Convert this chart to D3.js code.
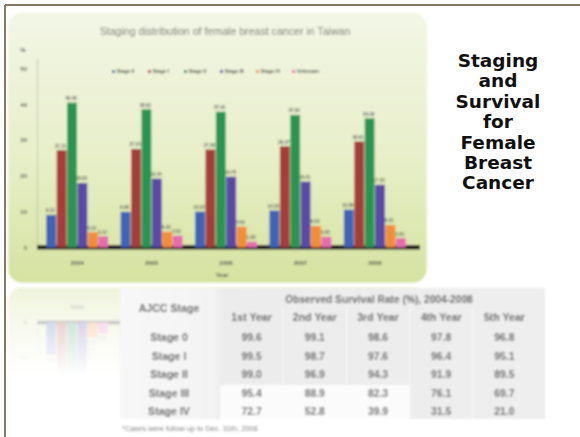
<!DOCTYPE html>
<html><head><meta charset="utf-8">
<script src="https://cdn.jsdelivr.net/npm/d3@7"></script>
<style>
html,body{margin:0;padding:0;background:#fff;}
svg{display:block;}
</style></head>
<body>
<svg id="slide" width="580" height="437"></svg>
<script>
// Staging distribution (%) by year of diagnosis
const years = ["2004", "2005", "2006", "2007", "2008"];
const stages = ["Stage 0", "Stage I", "Stage II", "Stage III", "Stage IV", "Unknown"];
const stage0Pct   = [9.12, 9.96, 10.02, 10.33, 10.58];
const stage1Pct   = [27.21, 27.53, 27.38, 28.27, 29.61];
const stage2Pct   = [40.46, 38.62, 37.91, 37.02, 36.09];
const stage3Pct   = [18.03, 19.24, 19.78, 18.41, 17.52];
const stage4Pct   = [4.31, 4.42, 5.81, 6.02, 6.31];
const unknownPct  = [3.12, 3.31, 1.62, 3.03, 2.61];
const yTicks = [0, 10, 20, 30, 40, 50];

// Observed survival rate (%), 2004-2008
const survivalCols = ["1st Year", "2nd Year", "3rd Year", "4th Year", "5th Year"];
const survivalRows = ["Stage 0", "Stage I", "Stage II", "Stage III", "Stage IV"];
const survStage0 = [99.6, 99.1, 98.6, 97.8, 96.8];
const survStage1 = [99.5, 98.7, 97.6, 96.4, 95.1];
const survStage2 = [99.0, 96.9, 94.3, 91.9, 89.5];
const survStage3 = [95.4, 88.9, 82.3, 76.1, 69.7];
const survStage4 = [72.7, 52.8, 39.9, 31.5, 21.0];

const titleLines = ["Staging", "and", "Survival", "for", "Female", "Breast", "Cancer"];

const seriesValues = [stage0Pct, stage1Pct, stage2Pct, stage3Pct, stage4Pct, unknownPct];
const survValues = [survStage0, survStage1, survStage2, survStage3, survStage4];
const colors = ["#3f64b6", "#a53c3b", "#2a9553", "#5a48a5", "#f28d38", "#e66cb0"];

const svg = d3.select("#slide");
const defs = svg.append("defs");

const pg = defs.append("linearGradient").attr("id", "panelFill")
  .attr("x1", 0).attr("y1", 0).attr("x2", 0).attr("y2", 1);
pg.append("stop").attr("offset", "0%").attr("stop-color", "#f3f6e6");
pg.append("stop").attr("offset", "55%").attr("stop-color", "#e7efc8");
pg.append("stop").attr("offset", "100%").attr("stop-color", "#d5e2a0");

const soft = defs.append("filter").attr("id", "soft")
  .attr("x", "-5%").attr("y", "-5%").attr("width", "110%").attr("height", "110%");
soft.append("feGaussianBlur").attr("stdDeviation", 1.0);

const tableSoft = defs.append("filter").attr("id", "tableSoft")
  .attr("x", "-5%").attr("y", "-5%").attr("width", "110%").attr("height", "110%");
tableSoft.append("feGaussianBlur").attr("stdDeviation", 0.8);

// fade mask for the mirrored chart (defined in the flipped coordinate space)
const mirrorY = 285;
const rg = defs.append("linearGradient").attr("id", "reflFade")
  .attr("gradientUnits", "userSpaceOnUse")
  .attr("x1", 0).attr("y1", mirrorY).attr("x2", 0).attr("y2", mirrorY - 90);
rg.append("stop").attr("offset", "0%").attr("stop-color", "#fff").attr("stop-opacity", 0.4);
rg.append("stop").attr("offset", "100%").attr("stop-color", "#fff").attr("stop-opacity", 0);
defs.append("mask").attr("id", "reflMask").attr("maskUnits", "userSpaceOnUse")
  .attr("x", 0).attr("y", 0).attr("width", 580).attr("height", 600)
  .append("rect").attr("x", 0).attr("y", mirrorY - 100).attr("width", 580).attr("height", 100)
  .attr("fill", "url(#reflFade)");

const font = "Liberation Sans, Arial, sans-serif";

// ---------- chart panel ----------
const chart = svg.append("g").attr("id", "chartPanel").attr("filter", "url(#soft)");

chart.append("rect")
  .attr("x", 8).attr("y", 13).attr("width", 419).attr("height", 270)
  .attr("rx", 14).attr("ry", 14)
  .attr("fill", "url(#panelFill)")
  .attr("stroke", "#f7f9ec").attr("stroke-width", 1.2);

chart.append("text")
  .attr("x", 225).attr("y", 35).attr("text-anchor", "middle")
  .attr("font-family", font)
  .attr("font-size", 10.6).attr("fill", "#76776c")
  .text("Staging distribution of female breast cancer in Taiwan");

const x0 = d3.scaleBand().domain(years).range([40, 412]).paddingInner(0.16).paddingOuter(0.08);
const x1 = d3.scaleBand().domain(stages).range([0, x0.bandwidth()]);
const y = d3.scaleLinear().domain([0, 53]).range([247.5, 57.7]);

// value axis
const yAxis = chart.append("g").attr("transform", "translate(37,0)")
  .call(d3.axisLeft(y).tickValues(yTicks).tickSize(0).tickPadding(10));
yAxis.select(".domain").attr("stroke", "#b9bfa3").attr("stroke-width", 0.8);
yAxis.selectAll("text").attr("font-family", font)
  .attr("font-size", 6).attr("font-weight", "bold").attr("fill", "#505346");
chart.append("text").attr("x", 23).attr("y", 52).attr("text-anchor", "middle")
  .attr("font-family", font)
  .attr("font-size", 6).attr("font-weight", "bold").attr("fill", "#505346").text("%");

// legend
const lx = d3.scaleBand().domain(stages).range([112, 328]);
const leg = chart.append("g").selectAll("g").data(stages).join("g")
  .attr("transform", d => `translate(${lx(d)},72)`);
leg.append("rect").attr("x", 0).attr("y", -2).attr("width", 3).attr("height", 3)
  .attr("fill", (d, i) => colors[i]);
leg.append("text").attr("x", 4.5).attr("y", 1.2)
  .attr("font-family", font)
  .attr("font-size", 5).attr("font-weight", "bold").attr("fill", "#55584a").text(d => d);

// floor band under the bars
chart.append("rect")
  .attr("x", 37).attr("y", y(0) - 2.5).attr("width", 383).attr("height", 4.5)
  .attr("fill", "#161616");

// bars with value labels
const groups = chart.append("g").selectAll("g").data(years).join("g")
  .attr("transform", d => `translate(${x0(d)},0)`);
groups.each(function (yr, yi) {
  const g = d3.select(this);
  const cells = stages.map((s, si) => ({ s, si, v: seriesValues[si][yi] }));
  g.selectAll("rect").data(cells).join("rect")
    .attr("x", d => x1(d.s) + 0.3)
    .attr("width", x1.bandwidth() - 0.6)
    .attr("y", d => y(d.v))
    .attr("height", d => y(0) - y(d.v))
    .attr("fill", d => colors[d.si]);
  g.selectAll("text").data(cells).join("text")
    .attr("x", d => x1(d.s) + x1.bandwidth() / 2 - 1)
    .attr("y", d => y(d.v) - 2.5)
    .attr("text-anchor", "middle")
    .attr("font-family", font)
    .attr("font-size", 4.6).attr("font-weight", "bold").attr("fill", "#5c5f55")
    .text(d => d.v.toFixed(2));
});

// category axis
const xAxis = chart.append("g").attr("transform", `translate(0,${y(0)})`)
  .call(d3.axisBottom(x0).tickSize(0).tickPadding(13));
xAxis.select(".domain").remove();
xAxis.selectAll("text").attr("font-family", font)
  .attr("font-size", 6).attr("font-weight", "bold").attr("fill", "#505346");
chart.append("text").attr("x", 222).attr("y", 277).attr("text-anchor", "middle")
  .attr("font-family", font)
  .attr("font-size", 6).attr("font-weight", "bold").attr("fill", "#505346").text("Year");

// mirrored copy beneath the panel, fading out downward
svg.insert("use", "#chartPanel")
  .attr("href", "#chartPanel")
  .attr("transform", `translate(0,${2 * mirrorY}) scale(1,-1)`)
  .attr("mask", "url(#reflMask)");

// ---------- survival table ----------
const table = svg.append("g").attr("filter", "url(#tableSoft)");
const tg = defs.append("linearGradient").attr("id", "tableFill")
  .attr("x1", 0).attr("y1", 0).attr("x2", 1).attr("y2", 0);
tg.append("stop").attr("offset", "0%").attr("stop-color", "#f8f8f8");
tg.append("stop").attr("offset", "22%").attr("stop-color", "#f3f3f3");
tg.append("stop").attr("offset", "24%").attr("stop-color", "#ececec");
tg.append("stop").attr("offset", "100%").attr("stop-color", "#eeeeee");

const cx = d3.scaleBand().domain(survivalCols).range([220, 536]);
const ry = d3.scaleBand().domain(survivalRows).range([328, 421]);

table.append("rect").attr("x", 120).attr("y", 288).attr("width", 425).attr("height", 131)
  .attr("fill", "url(#tableFill)");
// white cells behind the lower rows of the first three columns
table.append("rect")
  .attr("x", cx("1st Year")).attr("y", ry("Stage III") + 1)
  .attr("width", cx("4th Year") - cx("1st Year")).attr("height", ry.step() * 2 - 3)
  .attr("fill", "#fbfbfb");
// column separators
table.append("g").selectAll("line").data(survivalCols.slice(1)).join("line")
  .attr("x1", d => cx(d)).attr("x2", d => cx(d))
  .attr("y1", 308).attr("y2", 419)
  .attr("stroke", "#fafafa").attr("stroke-width", 1.2);

table.append("text").attr("x", 169).attr("y", 308).attr("dy", "0.35em")
  .attr("text-anchor", "middle").attr("font-family", font)
  .attr("font-size", 10.6).attr("font-weight", "bold").attr("fill", "#5d5d5d")
  .text("AJCC Stage");
table.append("text").attr("x", 379).attr("y", 299).attr("dy", "0.35em")
  .attr("text-anchor", "middle").attr("font-family", font)
  .attr("font-size", 10.2).attr("font-weight", "bold").attr("fill", "#5d5d5d")
  .text("Observed Survival Rate (%), 2004-2008");
table.append("g").selectAll("text").data(survivalCols).join("text")
  .attr("x", d => cx(d) + cx.bandwidth() / 2).attr("y", 317).attr("dy", "0.35em")
  .attr("text-anchor", "middle").attr("font-family", font)
  .attr("font-size", 10.6).attr("font-weight", "bold").attr("fill", "#5d5d5d")
  .text(d => d);
table.append("g").selectAll("text").data(survivalRows).join("text")
  .attr("x", 169).attr("y", d => ry(d) + ry.bandwidth() / 2).attr("dy", "0.35em")
  .attr("text-anchor", "middle").attr("font-family", font)
  .attr("font-size", 10.6).attr("font-weight", "bold").attr("fill", "#5d5d5d")
  .text(d => d);
survivalRows.forEach((r, ri) => {
  table.append("g").selectAll("text").data(survValues[ri]).join("text")
    .attr("x", (d, ci) => cx(survivalCols[ci]) + cx.bandwidth() / 2)
    .attr("y", ry(r) + ry.bandwidth() / 2).attr("dy", "0.35em")
    .attr("text-anchor", "middle").attr("font-family", font)
    .attr("font-size", 10.4).attr("font-weight", "bold").attr("fill", "#676767")
    .text(d => d.toFixed(1));
});
table.append("text").attr("x", 122).attr("y", 428).attr("dy", "0.35em")
  .attr("font-family", font).attr("font-size", 7.4).attr("fill", "#858585")
  .text("*Cases were follow up to Dec. 31th, 2008");

// ---------- slide frame ----------
svg.append("line").attr("x1", 5).attr("x2", 580).attr("y1", 5).attr("y2", 5)
  .attr("stroke", "#887868").attr("stroke-width", 2);
svg.append("line").attr("x1", 5).attr("x2", 5).attr("y1", 5).attr("y2", 437)
  .attr("stroke", "#887868").attr("stroke-width", 2);

// ---------- slide heading ----------
svg.append("g").selectAll("text").data(titleLines).join("text")
  .attr("x", 498).attr("y", (d, i) => 67 + i * 20.4)
  .attr("text-anchor", "middle")
  .attr("font-family", "DejaVu Sans, Verdana, sans-serif")
  .attr("font-weight", "bold").attr("font-size", 18.5).attr("fill", "#111")
  .text(d => d);
</script>
</body></html>
